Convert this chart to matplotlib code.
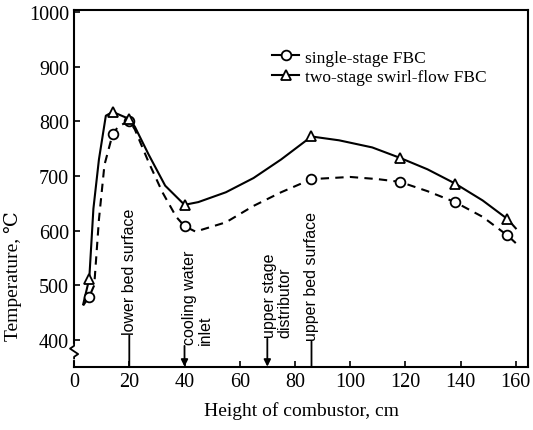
import matplotlib
matplotlib.use("Agg")
import matplotlib.pyplot as plt
import matplotlib.transforms as mtransforms
from matplotlib.lines import Line2D

plt.rcParams["font.family"] = ["Liberation Serif", "DejaVu Serif"]

# measured points (markers)
x_pts = [5.5, 14, 20, 40, 86, 118, 138, 157]
single_stage = [479, 777, 801, 608, 694, 689, 652, 591]
two_stage = [512, 817, 804, 647, 772, 733, 686, 621]

# hand-drawn curves
single_curve_x = [3.3, 5.5, 7.3, 9, 11, 14, 16, 20, 22, 27, 32, 37, 40, 44,
                  55, 65, 75, 86, 100, 110, 118, 128, 138, 148, 157, 160]
single_curve_y = [463, 479, 500, 620, 720, 777, 790, 801, 785, 725, 670, 625, 608, 598,
                  615, 645, 670, 694, 698, 694, 689, 672, 652, 625, 591, 577]
two_curve_x = [3.3, 5.5, 7, 9, 11.5, 14, 20, 22, 27, 33, 40, 45, 55, 65, 75,
               86, 96, 108, 118, 128, 138, 148, 157, 160]
two_curve_y = [465, 512, 640, 730, 810, 817, 804, 790, 739, 682, 647, 652, 670, 696, 730,
               772, 765, 752, 733, 712, 686, 655, 621, 604]

labels = ["single-stage FBC", "two-stage swirl-flow FBC"]

# positions along the combustor (text, x, text x, text bottom, arrow head?)
notes = [
    ("lower bed surface", 20, 20, 408, False),
    ("cooling water\ninlet", 40, 44.6, 389, True),
    ("upper stage\ndistributor", 70, 73.7, 402, True),
    ("upper bed surface", 86, 86, 397, False),
]

fig = plt.figure(figsize=(5.33, 4.31), dpi=100)
ax = fig.add_axes([0.139, 0.147, 0.852, 0.827])

ax.plot(two_curve_x, two_curve_y, color="black", lw=1.5, ls="-")
ax.plot(single_curve_x, single_curve_y, color="black", lw=1.5, ls=(0, (4, 3)))
ax.plot(x_pts, single_stage, ls="none", marker="o", ms=7, mfc="white",
        mec="black", mew=1.3)
ax.plot(x_pts, two_stage, ls="none", marker="^", ms=7, mfc="white",
        mec="black", mew=1.3)

ymin = 351
for text, xa, xt, ytxt, arrow in notes:
    ax.text(xt, ytxt + 3, text, rotation=90, ha="center", va="bottom",
            fontsize=11.5, family=["Liberation Sans", "DejaVu Sans"],
            multialignment="left", linespacing=1.05)
    ax.annotate("", xy=(xa, ymin), xytext=(xa, ytxt),
                arrowprops=dict(arrowstyle="-|>" if arrow else "-",
                                color="black", lw=1.3,
                                mutation_scale=10, shrinkA=0, shrinkB=0))

# axis break on the left spine
trans = mtransforms.blended_transform_factory(ax.transAxes, ax.transData)
ax.plot([0, 0], [367, 389], transform=trans, color="white", lw=3,
        clip_on=False, zorder=3)
ax.plot([0, 0, -0.009, 0.009, 0, 0], [392, 389, 384, 374, 369, 366],
        transform=trans, color="black", lw=1.3, clip_on=False, zorder=4)

ax.set_xlim(0, 164.5)
ax.set_ylim(ymin, 1003)
ax.set_xticks(range(0, 161, 20))
ax.set_yticks(range(400, 1001, 100))
ax.tick_params(direction="in", length=4, width=1.2, labelsize=14.5)
for s in ax.spines.values():
    s.set_linewidth(1.5)

ax.set_xlabel("Height of combustor, cm", fontsize=14, labelpad=8)
ax.set_ylabel("Temperature, \u2103", fontsize=14)
ax.yaxis.set_label_coords(-0.115, 0.257)

handles = [
    Line2D([], [], color="black", lw=1.5, marker="o", ms=7, mfc="white", mew=1.3),
    Line2D([], [], color="black", lw=1.5, marker="^", ms=7, mfc="white", mew=1.3),
]
ax.legend(handles, labels, loc="upper left", bbox_to_anchor=(0.435, 0.89),
          frameon=False, fontsize=12.5, handlelength=1.6, handletextpad=0.3,
          borderaxespad=0, borderpad=0, labelspacing=0.2)

fig.savefig("out.png", dpi=100)
